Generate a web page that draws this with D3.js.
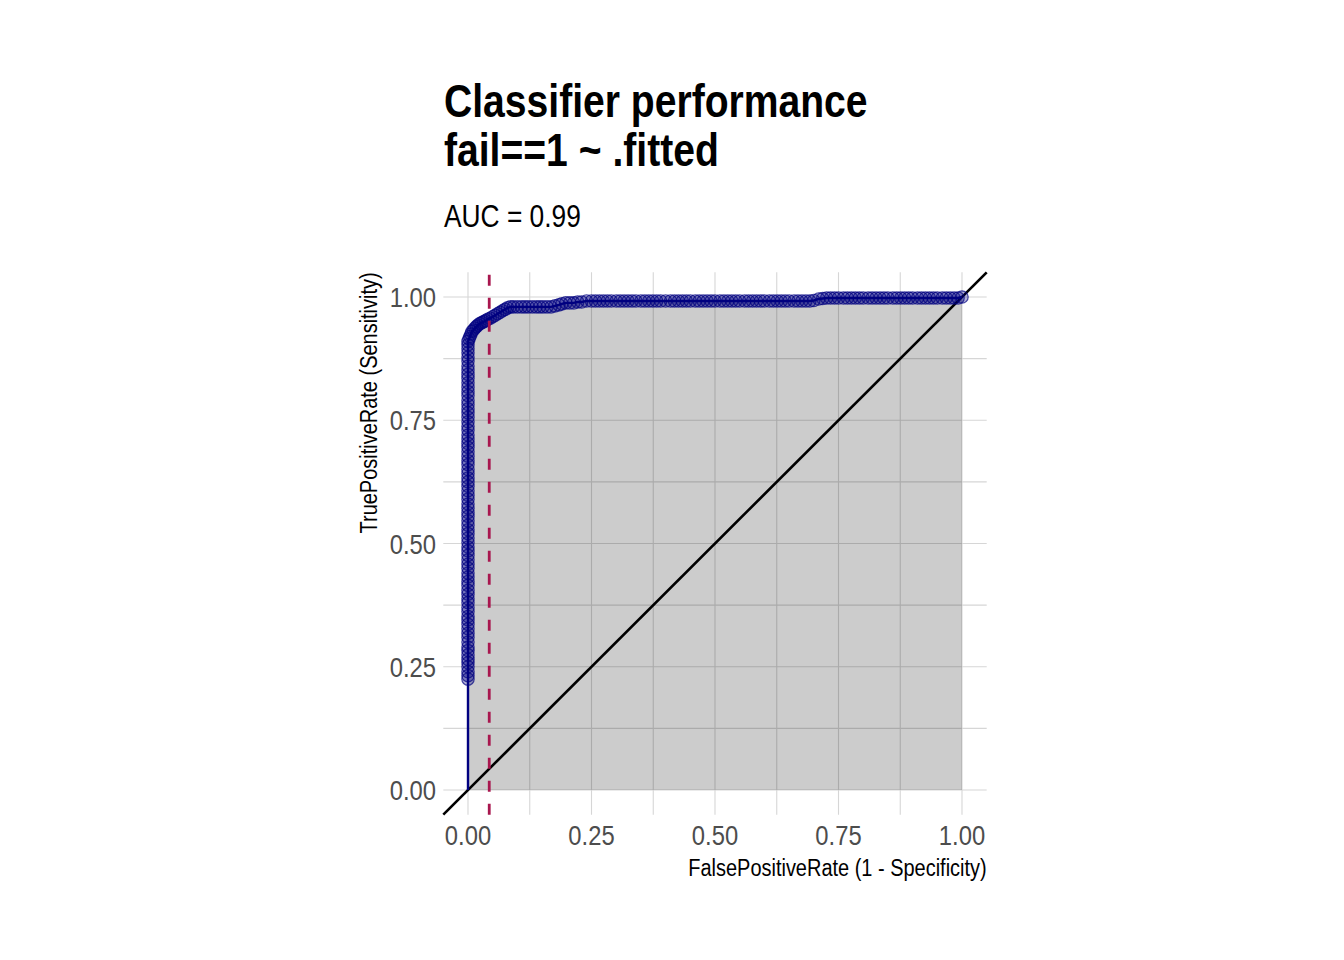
<!DOCTYPE html>
<html>
<head>
<meta charset="utf-8">
<script src="https://cdn.jsdelivr.net/npm/d3@7"></script>
<style>
  html, body { margin: 0; padding: 0; background: #fff; }
  svg { display: block; }
  text { font-family: 'Liberation Sans', Arial, sans-serif; }
</style>
</head>
<body>
<svg id="chart" width="1344" height="960"></svg>
<script>
// ---------- data ----------
const titleLines = ["Classifier performance", "fail==1 ~ .fitted"];
const subtitle = "AUC = 0.99";
const xLabel = "FalsePositiveRate (1 - Specificity)";
const yLabel = "TruePositiveRate (Sensitivity)";
const tickValues = [0, 0.25, 0.5, 0.75, 1];
const tickLabels = ["0.00", "0.25", "0.50", "0.75", "1.00"];
const minorTicks = [0.125, 0.375, 0.625, 0.875];
const cutoffFpr = 0.043;

// points stacked at FPR = 0
const stackTpr = [0.225,0.232,0.24,0.25,0.258,0.265,0.274,0.283,0.29,0.3,0.31,0.318,0.327,0.336,0.345,0.352,0.362,0.37,0.38,0.388,
  0.397,0.405,0.415,0.423,0.432,0.44,0.45,0.458,0.467,0.476,0.485,0.493,0.502,0.511,0.52,0.528,0.537,0.546,0.555,0.563,
  0.572,0.58,0.59,0.598,0.607,0.616,0.625,0.633,0.642,0.65,0.66,0.668,0.677,0.686,0.695,0.703,0.712,0.72,0.73,0.738,
  0.747,0.756,0.765,0.773,0.782,0.79,0.8,0.808,0.817,0.826,0.835,0.843,0.852,0.86,0.87,0.878,0.887,0.895,0.903,0.91];

// remaining ROC points
const curveFpr = [0.002,0.004,0.006,0.008,0.011,0.014,0.017,0.02,0.024,0.028,0.032,0.036,0.04,0.045,0.05,0.055,0.06,0.065,0.07,0.075,
  0.08,0.086,0.092,0.1,0.108,0.115,0.122,0.13,0.138,0.145,0.152,0.16,0.168,0.176,0.184,0.19,0.198,0.206,0.214,0.222,
  0.23,0.24,0.25,0.258,0.266,0.274,0.282,0.29,0.3,0.308,0.316,0.324,0.332,0.34,0.35,0.358,0.366,0.374,0.382,0.39,
  0.4,0.41,0.418,0.426,0.434,0.442,0.45,0.46,0.468,0.476,0.484,0.492,0.5,0.51,0.518,0.526,0.534,0.542,0.55,0.56,
  0.568,0.576,0.584,0.592,0.6,0.61,0.618,0.626,0.634,0.642,0.65,0.66,0.668,0.676,0.684,0.692,0.7,0.71,0.718,0.726,
  0.734,0.742,0.75,0.76,0.768,0.776,0.784,0.792,0.8,0.81,0.818,0.826,0.834,0.842,0.85,0.86,0.868,0.876,0.884,0.892,
  0.9,0.91,0.918,0.926,0.934,0.942,0.95,0.96,0.968,0.976,0.984,0.992,1.0];
const curveTpr = [0.915,0.92,0.925,0.93,0.933,0.937,0.94,0.943,0.946,0.948,0.95,0.952,0.955,0.957,0.96,0.963,0.966,0.969,0.972,0.975,
  0.978,0.98,0.98,0.98,0.98,0.98,0.98,0.98,0.98,0.98,0.98,0.98,0.98,0.982,0.984,0.986,0.988,0.988,0.988,0.99,
  0.99,0.992,0.992,0.992,0.992,0.992,0.992,0.992,0.992,0.992,0.992,0.992,0.992,0.992,0.992,0.992,0.992,0.992,0.992,0.992,
  0.992,0.992,0.992,0.992,0.992,0.992,0.992,0.992,0.992,0.992,0.992,0.992,0.992,0.992,0.992,0.992,0.992,0.992,0.992,0.992,
  0.992,0.992,0.992,0.992,0.992,0.992,0.992,0.992,0.992,0.992,0.992,0.992,0.992,0.992,0.992,0.992,0.993,0.996,0.997,0.998,
  0.998,0.998,0.998,0.998,0.998,0.998,0.998,0.998,0.998,0.998,0.998,0.998,0.998,0.998,0.998,0.998,0.998,0.998,0.998,0.998,
  0.998,0.998,0.998,0.998,0.998,0.998,0.998,0.998,0.998,0.998,0.998,0.998,1.0];

// ---------- build ----------
const points = stackTpr.map(t => ({fpr: 0, tpr: t}))
  .concat(curveFpr.map((f, i) => ({fpr: f, tpr: curveTpr[i]})));
const linePts = [{fpr: 0, tpr: 0}].concat(points);

const NARROW = 0.85; // horizontal condensing to mimic a narrow face

const svg = d3.select("#chart");
const x = d3.scaleLinear().domain([-0.05, 1.05]).range([443.3, 986.7]);
const y = d3.scaleLinear().domain([-0.05, 1.05]).range([814.65, 272.35]);
const [x0, x1] = x.range();
const [yb, yt] = y.range();

function narrowText(parent, tx, ty, rot) {
  return parent.append("text")
    .attr("transform", `translate(${tx},${ty})` + (rot ? ` rotate(${rot})` : "") + ` scale(${NARROW},1)`);
}

// grid
const grid = svg.append("g");
minorTicks.concat(tickValues).forEach(v => {
  grid.append("line").attr("x1", x(v)).attr("x2", x(v)).attr("y1", yb).attr("y2", yt)
    .attr("stroke", "#d6d6d6").attr("stroke-width", 1.1);
  grid.append("line").attr("y1", y(v)).attr("y2", y(v)).attr("x1", x0).attr("x2", x1)
    .attr("stroke", "#d6d6d6").attr("stroke-width", 1.1);
});

// area under curve
const area = d3.area().x(d => x(d.fpr)).y0(y(0)).y1(d => y(d.tpr));
svg.append("path").datum(linePts.concat([{fpr: 1, tpr: 1}]))
  .attr("d", area).attr("fill", "#000").attr("fill-opacity", 0.2);

// diagonal reference
svg.append("line").attr("x1", x(-0.05)).attr("y1", y(-0.05)).attr("x2", x(1.05)).attr("y2", y(1.05))
  .attr("stroke", "#000").attr("stroke-width", 2.6);

// ROC line
const line = d3.line().x(d => x(d.fpr)).y(d => y(d.tpr));
svg.append("path").datum(linePts).attr("d", line)
  .attr("fill", "none").attr("stroke", "#000080").attr("stroke-width", 2.4);

// points
svg.append("g").selectAll("circle").data(points).join("circle")
  .attr("cx", d => x(d.fpr)).attr("cy", d => y(d.tpr)).attr("r", 6.2)
  .attr("fill", "#000080").attr("fill-opacity", 0.3)
  .attr("stroke", "#000080").attr("stroke-opacity", 0.7).attr("stroke-width", 1.2);

// cutoff dashed line
svg.append("line").attr("x1", x(cutoffFpr)).attr("x2", x(cutoffFpr)).attr("y1", yb).attr("y2", yt)
  .attr("stroke", "#A8164E").attr("stroke-width", 2.8).attr("stroke-dasharray", "11,12");

// tick labels
const xt = svg.append("g");
tickValues.forEach((v, i) => narrowText(xt, x(v), 845).attr("text-anchor", "middle")
  .attr("font-size", 28).attr("fill", "#4d4d4d").text(tickLabels[i]));
const ytg = svg.append("g");
tickValues.forEach((v, i) => narrowText(ytg, 436, y(v)).attr("dy", "0.36em").attr("text-anchor", "end")
  .attr("font-size", 28).attr("fill", "#4d4d4d").text(tickLabels[i]));

// axis titles
narrowText(svg, x1, 876).attr("text-anchor", "end").attr("font-size", 23.5).attr("fill", "#000").text(xLabel);
narrowText(svg, 377, yt, -90).attr("text-anchor", "end").attr("font-size", 23.5).attr("fill", "#000").text(yLabel);

// titles
const t = narrowText(svg, 444, 117).attr("font-size", 46).attr("font-weight", "bold").attr("fill", "#000");
titleLines.forEach((s, i) => t.append("tspan").attr("x", 0).attr("y", i * 49).text(s));
narrowText(svg, 444, 227).attr("font-size", 31).attr("fill", "#000").text(subtitle);
</script>
</body>
</html>
